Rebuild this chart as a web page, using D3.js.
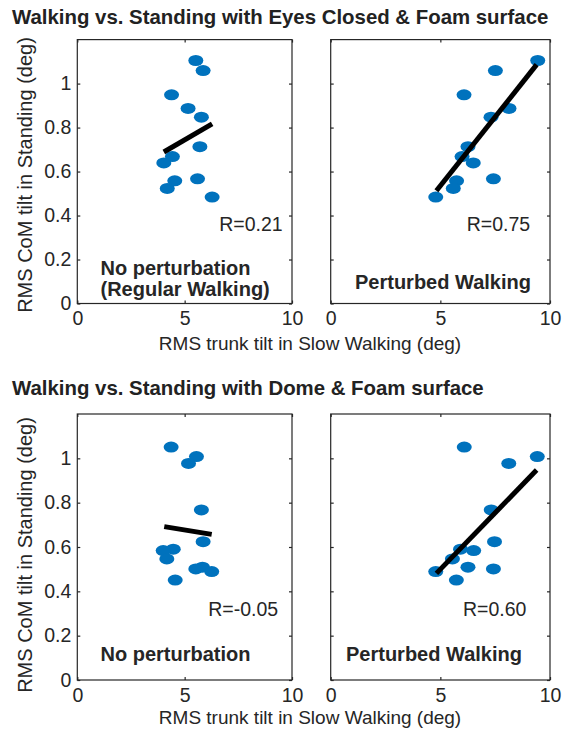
<!DOCTYPE html>
<html>
<head>
<meta charset="utf-8">
<script src="https://cdn.jsdelivr.net/npm/d3@7"></script>
<style>
  body { margin: 0; background: #fff; }
  svg { display: block; font-family: "Liberation Sans", Arial, sans-serif; }
</style>
</head>
<body>
<svg id="chart" width="567" height="733"></svg>
<script>
// axis ticks
const xTicks = [0, 5, 10];
const yTicks = [0, 0.2, 0.4, 0.6, 0.8, 1];

const titles = [
    "Walking vs. Standing with Eyes Closed & Foam surface",
    "Walking vs. Standing with Dome & Foam surface"
];
const xLabel = "RMS trunk tilt in Slow Walking (deg)";
const yLabel = "RMS CoM tilt in Standing (deg)";

// standing CoM tilt (same subjects in both panels of a row)
const standEyesClosed = [1.105, 1.059, 0.949, 0.887, 0.847, 0.713, 0.668, 0.639, 0.567, 0.558, 0.523, 0.484];
const walkEyesRegular = [5.52, 5.86, 4.39, 5.16, 5.78, 5.71, 4.43, 4.03, 5.60, 4.54, 4.19, 6.28];
const walkEyesPerturbed = [9.44, 7.51, 6.08, 8.13, 7.31, 6.26, 5.99, 6.50, 7.42, 5.74, 5.59, 4.79];

const standDome = [1.051, 1.008, 0.977, 0.767, 0.624, 0.590, 0.584, 0.546, 0.509, 0.501, 0.489, 0.451];
const walkDomeRegular = [4.37, 5.55, 5.18, 5.78, 5.86, 4.47, 4.00, 4.17, 5.83, 5.52, 6.26, 4.56];
const walkDomePerturbed = [6.09, 9.42, 8.12, 7.32, 7.47, 5.92, 6.52, 5.55, 6.26, 7.42, 4.79, 5.73];

// regression lines: [x, y] end points
const fitEyesRegular = [[4.03, 0.689], [6.28, 0.817]];
const fitEyesPerturbed = [[4.82, 0.513], [9.39, 1.086]];
const fitDomeRegular = [[4.05, 0.692], [6.26, 0.657]];
const fitDomePerturbed = [[4.82, 0.481], [9.39, 0.947]];

const rLabels = ["R=0.21", "R=0.75", "R=-0.05", "R=0.60"];
const conditionLabels = [
    ["No perturbation", "(Regular Walking)"],
    ["Perturbed Walking"],
    ["No perturbation"],
    ["Perturbed Walking"]
];

const panels = [
    {x: walkEyesRegular, y: standEyesClosed, fit: fitEyesRegular, r: rLabels[0], cond: conditionLabels[0],
     box: [77.3, 39.6, 292, 303.5], rPos: [6.61, 0.331], condPos: [100.5, 275], yTickLabels: true},
    {x: walkEyesPerturbed, y: standEyesClosed, fit: fitEyesPerturbed, r: rLabels[1], cond: conditionLabels[1],
     box: [330.7, 39.6, 550, 303.5], rPos: [6.2, 0.331], condPos: [355, 288.5], yTickLabels: false},
    {x: walkDomeRegular, y: standDome, fit: fitDomeRegular, r: rLabels[2], cond: conditionLabels[2],
     box: [77.3, 414, 292, 680], rPos: [6.1, 0.289], condPos: [100.5, 661], yTickLabels: true},
    {x: walkDomePerturbed, y: standDome, fit: fitDomePerturbed, r: rLabels[3], cond: conditionLabels[3],
     box: [330.7, 414, 550, 680], rPos: [6.03, 0.289], condPos: [346, 661], yTickLabels: false}
];

const ink = "#262626";
const svg = d3.select("#chart");

panels.forEach(function(p)
{
    const [x0, y0, x1, y1] = p.box;
    const sx = d3.scaleLinear().domain([0, 10]).range([x0, x1]);
    const sy = d3.scaleLinear().domain([0, 1.2]).range([y1, y0]);
    const g = svg.append("g");

    // box with inward ticks on all four sides
    g.append("rect")
        .attr("x", x0).attr("y", y0)
        .attr("width", x1 - x0).attr("height", y1 - y0)
        .attr("fill", "none").attr("stroke", ink).attr("stroke-width", 1.2);

    g.append("g").attr("transform", `translate(0,${y1})`)
        .call(d3.axisBottom(sx).tickValues(xTicks).tickSize(-3).tickPadding(8).tickFormat(d3.format("d")))
        .call(a => a.select(".domain").remove());
    g.append("g").attr("transform", `translate(0,${y0})`)
        .call(d3.axisTop(sx).tickValues(xTicks).tickSize(-3).tickFormat(""))
        .call(a => a.select(".domain").remove());
    g.append("g").attr("transform", `translate(${x0},0)`)
        .call(d3.axisLeft(sy).tickValues(yTicks).tickSize(-3).tickPadding(6)
            .tickFormat(p.yTickLabels ? (d => d === 0 || d === 1 ? d3.format("d")(d) : d3.format(".1f")(d)) : ""))
        .call(a => a.select(".domain").remove());
    g.append("g").attr("transform", `translate(${x1},0)`)
        .call(d3.axisRight(sy).tickValues(yTicks).tickSize(-3).tickFormat(""))
        .call(a => a.select(".domain").remove());

    g.selectAll(".tick line").attr("stroke", ink).attr("stroke-width", 1.2);
    g.selectAll(".tick text").attr("fill", ink).style("font-size", "19.5px")
        .style("font-family", "'Liberation Sans', Arial, sans-serif");

    // points
    g.selectAll("ellipse.pt").data(p.x.map((v, i) => [v, p.y[i]])).join("ellipse")
        .attr("class", "pt")
        .attr("cx", d => sx(d[0])).attr("cy", d => sy(d[1]))
        .attr("rx", 7.5).attr("ry", 5.5)
        .attr("fill", "#0072BD");

    // regression line
    g.append("path")
        .attr("d", d3.line().x(d => sx(d[0])).y(d => sy(d[1]))(p.fit))
        .attr("stroke", "#000").attr("stroke-width", 5).attr("fill", "none");

    // R value
    g.append("text")
        .attr("x", sx(p.rPos[0])).attr("y", sy(p.rPos[1]))
        .attr("fill", ink).style("font-size", "19.5px")
        .text(p.r);

    // condition label, one text per line
    p.cond.forEach(function(line, i)
    {
        g.append("text")
            .attr("x", p.condPos[0]).attr("y", p.condPos[1] + i * 21)
            .attr("fill", ink).style("font-size", "20px").style("font-weight", "bold")
            .text(line);
    });
});

// row titles
[24, 395].forEach(function(yy, i)
{
    svg.append("text")
        .attr("x", 12).attr("y", yy)
        .attr("fill", "#222").style("font-size", "20.4px").style("font-weight", "bold")
        .text(titles[i]);
});

// axis labels
[350, 724].forEach(function(yy)
{
    svg.append("text")
        .attr("x", 310).attr("y", yy).attr("text-anchor", "middle")
        .attr("fill", ink).style("font-size", "19px")
        .text(xLabel);
});
[175, 555].forEach(function(yy)
{
    svg.append("text")
        .attr("transform", `translate(32,${yy}) rotate(-90)`)
        .attr("text-anchor", "middle")
        .attr("fill", ink).style("font-size", "20px")
        .text(yLabel);
});
</script>
</body>
</html>
